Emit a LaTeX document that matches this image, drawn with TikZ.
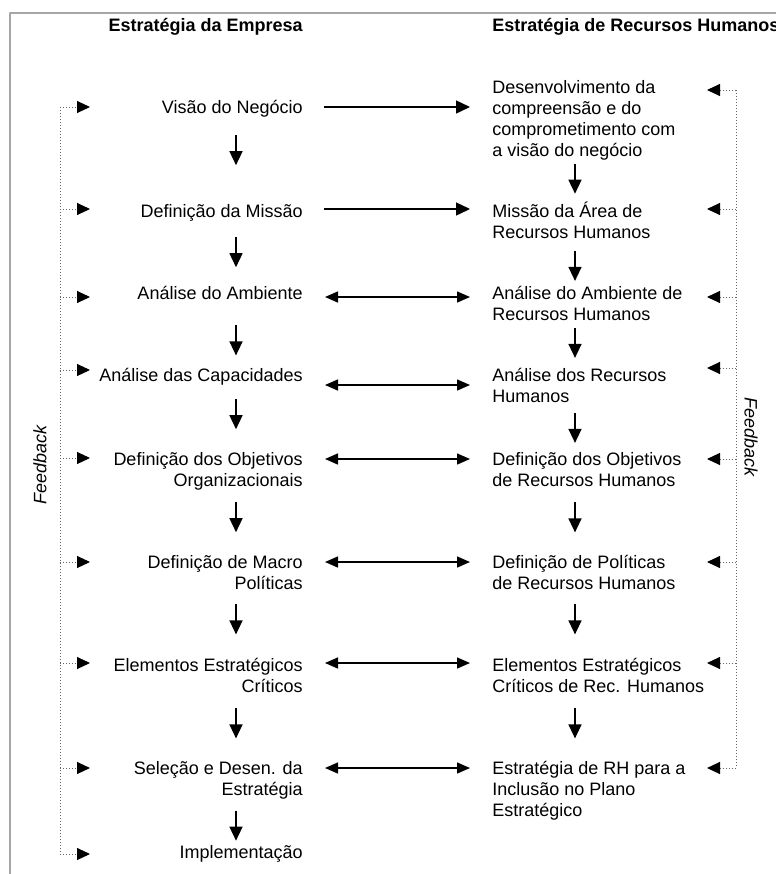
\documentclass[tikz,border=0pt]{standalone}
\usepackage{fontspec}
\setmainfont{Liberation Sans}
\usetikzlibrary{arrows.meta,calc}
\newcommand\fs{\rule{0pt}{8.5pt}}
\tikzset{
  esq/.style={anchor=north east, align=right, inner sep=0pt, yshift=5.3pt},
  dir/.style={anchor=north west, align=left, inner sep=0pt, yshift=5.3pt},
  seta/.style={line width=0.75pt, -{Triangle[length=7pt,width=6.5pt]}},
  dupla/.style={line width=0.75pt, {Triangle[length=6.5pt,width=5.5pt]}-{Triangle[length=6.5pt,width=5.5pt]}},
  retorno/.style={densely dotted, line width=0.5pt, gray!80!black},
  ponta/.style={-{Triangle[length=6.5pt,width=6pt,color=black]}}
}
\begin{document}
\begin{tikzpicture}[x=0.5pt, y=-0.5pt, font=\fontsize{9}{10.5}\selectfont, line join=round]
	\useasboundingbox (0,0) rectangle (776,874);
	% moldura
	\draw[gray!70, line width=1pt] (776,13) -- (10,13) -- (10,874);
	% titulos
	\node[esq, font=\fontsize{9}{10.5}\selectfont\bfseries] (te) at (303,25) {\fs Estratégia da Empresa};
	\node[dir, font=\fontsize{9}{10.5}\selectfont\bfseries] (td) at (492,25) {\fs Estratégia de Recursos Humanos};
	% estrategia da empresa
	\node[esq] (e1) at (303,107) {\fs Visão do Negócio};
	\node[esq] (e2) at (303,211) {\fs Definição da Missão};
	\node[esq] (e3) at (303,293) {\fs Análise do Ambiente};
	\node[esq] (e4) at (303,375) {\fs Análise das Capacidades};
	\node[esq] (e5) at (303,459) {\fs Definição dos Objetivos\\Organizacionais};
	\node[esq] (e6) at (303,562) {\fs Definição de Macro\\Políticas};
	\node[esq] (e7) at (303,665) {\fs Elementos Estratégicos\\Críticos};
	\node[esq] (e8) at (303,768) {\fs Seleção e Desen. da\\Estratégia};
	\node[esq] (e9) at (303,852) {\fs Implementação};
	% estrategia de RH
	\node[dir] (r1) at (492,87) {\fs Desenvolvimento da\\compreensão e do\\comprometimento com\\a visão do negócio};
	\node[dir] (r2) at (492,211) {\fs Missão da Área de\\Recursos Humanos};
	\node[dir] (r3) at (492,293) {\fs Análise do Ambiente de\\Recursos Humanos};
	\node[dir] (r4) at (492,375) {\fs Análise dos Recursos\\Humanos};
	\node[dir] (r5) at (492,459) {\fs Definição dos Objetivos\\de Recursos Humanos};
	\node[dir] (r6) at (492,562) {\fs Definição de Políticas\\de Recursos Humanos};
	\node[dir] (r7) at (492,665) {\fs Elementos Estratégicos\\Críticos de Rec. Humanos};
	\node[dir] (r8) at (492,768) {\fs Estratégia de RH para a\\Inclusão no Plano\\Estratégico};
	% setas verticais
	\coordinate (xe) at (236,0);
	\coordinate (xd) at (575,0);
	\foreach \a/\b/\d in {e1/e2/-9, e2/e3/0, e3/e4/8, e4/e5/-3, e5/e6/-4, e6/e7/-3, e7/e8/-2, e8/e9/5}
		\draw[seta] ($(xe |- \a.south)!.5!(xe |- \b.north)+(0,\d-15)$) -- ++(0,30);
	\foreach \a/\b/\d in {r1/r2/-2, r2/r3/5, r3/r4/0, r4/r5/2, r5/r6/-2, r6/r7/-3, r7/r8/-2}
		\draw[seta] ($(xd |- \a.south)!.5!(xd |- \b.north)+(0,\d-15)$) -- ++(0,30);
	% setas horizontais
	\foreach \n/\y in {1/107, 2/209}
		\draw[seta, shorten <=10.5pt, shorten >=11pt] (e\n.east |- 0,\y) -- (r\n.west |- 0,\y);
	\foreach \n/\y in {3/297, 4/385, 5/459, 6/562, 7/663, 8/768}
		\draw[dupla, shorten <=11pt, shorten >=11pt] (e\n.east |- 0,\y) -- (r\n.west |- 0,\y);
	% feedback
	\coordinate (fe1) at (60,107);
	\coordinate (fe2) at (60,854);
	\coordinate (fd1) at (736,90);
	\coordinate (fd2) at (736,768);
	\draw[retorno] (fe1) -- (fe2);
	\draw[retorno] (fd1) -- (fd2);
	\foreach \y in {107,209,297,370,458,562,663,768,854}
		\draw[retorno, ponta] (fe1 |- 0,\y) -- ++(30,0);
	\foreach \y in {90,209,297,368,459,562,663,768}
		\draw[retorno, ponta] (fd1 |- 0,\y) -- ++(-29,0);
	\node[rotate=90, font=\fontsize{9}{10.5}\selectfont\itshape] (fbe) at (40,465) {Feedback};
	\node[rotate=-90, font=\fontsize{9}{10.5}\selectfont\itshape] (fbd) at (751,437) {Feedback};
\end{tikzpicture}
\end{document}
